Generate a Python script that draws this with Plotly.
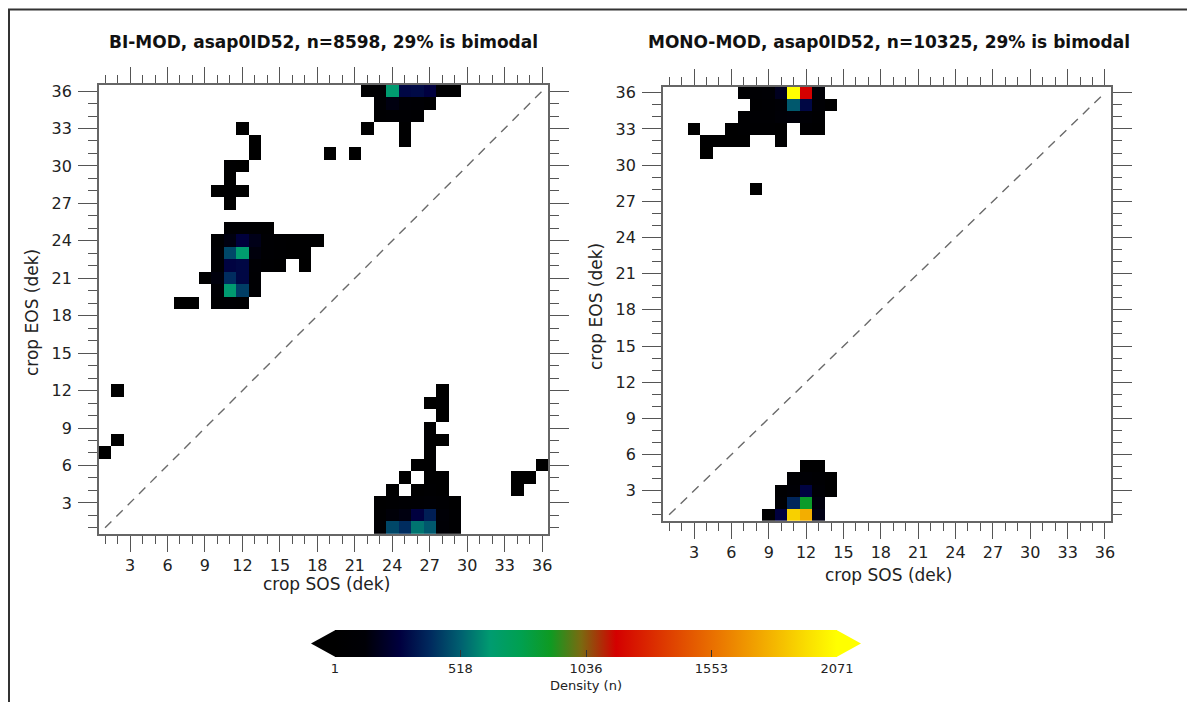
import plotly.graph_objects as go
import numpy as np

# page is 1195x702; the plot div sits at the browser's default 8px body margin
PAGE_W, PAGE_H = 1195, 702
OFF = 8
W, H = PAGE_W - OFF, PAGE_H - OFF

# ---------------- data ----------------
dek = list(range(1, 37))            # dekad index 1..36
tick_vals = list(range(3, 37, 3))   # labelled ticks

# BI-MOD panel: cell SOS, EOS, count
bi_sos = [22, 23, 24, 25, 26, 27, 28, 29,
          23, 24, 25, 26, 27,
          23, 24, 25, 26,
          22, 25, 25,
          19, 21,
          12, 13, 13, 11, 12, 11, 10, 11, 12, 11,
          11, 12, 13, 14,
          10, 11, 12, 13, 14, 15, 16, 17, 18,
          10, 11, 12, 13, 14, 15, 16, 17,
          10, 11, 12, 13, 14, 15, 17,
          9, 10, 11, 12, 13,
          10, 11, 12, 13,
          7, 8, 10, 11, 12,
          1, 2, 2, 34, 34, 35, 36,
          28, 27, 28, 28, 27, 27, 28, 27, 26, 27,
          25, 27, 28, 24, 26, 27, 28,
          23, 24, 25, 26, 27, 28, 29,
          23, 24, 25, 26, 27, 28, 29,
          23, 24, 25, 26, 27, 28, 29]
bi_eos = [36, 36, 36, 36, 36, 36, 36, 36,
          35, 35, 35, 35, 35,
          34, 34, 34, 34,
          33, 33, 32,
          31, 31,
          33, 32, 31, 30, 30, 29, 28, 28, 28, 27,
          25, 25, 25, 25,
          24, 24, 24, 24, 24, 24, 24, 24, 24,
          23, 23, 23, 23, 23, 23, 23, 23,
          22, 22, 22, 22, 22, 22, 22,
          21, 21, 21, 21, 21,
          20, 20, 20, 20,
          19, 19, 19, 19, 19,
          7, 8, 12, 5, 4, 5, 6,
          12, 11, 11, 10, 9, 8, 8, 7, 6, 6,
          5, 5, 5, 4, 4, 4, 4,
          3, 3, 3, 3, 3, 3, 3,
          2, 2, 2, 2, 2, 2, 2,
          1, 1, 1, 1, 1, 1, 1]
bi_n = [40, 60, 640, 290, 300, 270, 50, 30,
        60, 150, 110, 80, 40,
        50, 70, 60, 40,
        20, 30, 25,
        10, 10,
        10, 10, 10, 15, 10, 10, 10, 15, 10, 10,
        60, 70, 50, 30,
        50, 150, 260, 170, 60, 40, 30, 20, 15,
        80, 460, 650, 140, 60, 40, 25, 15,
        90, 280, 290, 90, 40, 20, 10,
        20, 140, 400, 290, 70,
        90, 640, 440, 60,
        10, 10, 40, 60, 40,
        10, 10, 10, 10, 10, 10, 10,
        10, 10, 15, 10, 15, 15, 10, 20, 15, 25,
        10, 30, 20, 15, 25, 40, 30,
        30, 50, 60, 70, 80, 60, 30,
        50, 130, 150, 270, 360, 120, 40,
        60, 460, 400, 560, 500, 110, 40]

# MONO-MOD panel: cell SOS, EOS, count
mono_sos = [7, 8, 9, 10, 11, 12, 13,
            8, 9, 10, 11, 12, 13, 14,
            7, 8, 9, 10, 11, 12, 13,
            3, 6, 7, 8, 9, 10, 12, 13,
            4, 5, 6, 7, 10,
            4, 8,
            12, 13,
            11, 12, 13, 14,
            10, 11, 12, 13, 14,
            10, 11, 12, 13,
            9, 10, 11, 12, 13]
mono_eos = [36, 36, 36, 36, 36, 36, 36,
            35, 35, 35, 35, 35, 35, 35,
            34, 34, 34, 34, 34, 34, 34,
            33, 33, 33, 33, 33, 33, 33, 33,
            32, 32, 32, 32, 32,
            31, 28,
            5, 5,
            4, 4, 4, 4,
            3, 3, 3, 3, 3,
            2, 2, 2, 2,
            1, 1, 1, 1, 1]
mono_n = [40, 60, 80, 190, 2071, 1160, 120,
          50, 70, 110, 500, 290, 80, 30,
          40, 60, 70, 120, 130, 110, 50,
          10, 20, 40, 50, 40, 30, 40, 30,
          15, 20, 25, 20, 15,
          10, 10,
          30, 20,
          60, 110, 60, 20,
          50, 100, 280, 100, 30,
          90, 380, 870, 140,
          40, 270, 1900, 1780, 160]

titles = ["BI-MOD, asap0ID52, n=8598, 29% is bimodal",
          "MONO-MOD, asap0ID52, n=10325, 29% is bimodal"]
x_title = "crop SOS (dek)"
y_title = "crop EOS (dek)"
cbar_title = "Density (n)"
cbar_min, cbar_max = 1, 2071
cbar_ticks = [1, 518, 1036, 1553, 2071]


def grid(sos, eos, n):
    z = [[None] * 36 for _ in range(36)]
    for s, e, c in zip(sos, eos, n):
        z[e - 1][s - 1] = c
    return z


colorscale = [[0.0, '#000000'], [0.06, '#000006'], [0.13, '#00003f'],
              [0.19, '#002a5e'], [0.25, '#006070'], [0.31, '#009c70'],
              [0.37, '#00a050'], [0.43, '#0f9a22'], [0.49, '#7a6a10'],
              [0.56, '#d40000'], [0.66, '#de3c00'], [0.76, '#ea7400'],
              [0.86, '#f3ae00'], [0.94, '#fade00'], [1.0, '#ffff00']]


# ---------------- geometry (page pixels -> paper) ----------------
def px(x):
    return (x - OFF) / W


def py(y):
    return 1 - (y - OFF) / H


L = dict(x0=98.8, x1=548.4, y0=84.8, y1=534.1)
R = dict(x0=662.9, x1=1111.2, y0=86.7, y1=520.9)

fig = go.Figure()
fig.add_trace(go.Heatmap(x=dek, y=dek, z=grid(bi_sos, bi_eos, bi_n),
                         coloraxis='coloraxis', xaxis='x', yaxis='y',
                         hoverongaps=False))
fig.add_trace(go.Heatmap(x=dek, y=dek, z=grid(mono_sos, mono_eos, mono_n),
                         coloraxis='coloraxis', xaxis='x2', yaxis='y2',
                         hoverongaps=False))
for xa, ya in (('x', 'y'), ('x2', 'y2')):
    fig.add_trace(go.Scatter(x=[1, 36], y=[1, 36], mode='lines', xaxis=xa, yaxis=ya,
                             line=dict(color='#6a6a6a', width=1.4, dash='9px,7px'),
                             showlegend=False, hoverinfo='skip'))

tickfont = dict(family='DejaVu Sans', size=16, color='#222')


def axis(domain, anchor, major_len, minor_len, standoff):
    return dict(domain=domain, anchor=anchor, range=[0.5, 36.5],
                tickmode='array', tickvals=tick_vals,
                ticks='outside', ticklen=major_len, tickwidth=1.3, tickcolor='#555',
                minor=dict(tickmode='linear', tick0=0, dtick=1, ticks='outside',
                           ticklen=minor_len, tickwidth=1.1, tickcolor='#555', showgrid=False),
                mirror='ticks', showline=True, linecolor='#666', linewidth=1.5,
                showgrid=False, zeroline=False, tickfont=tickfont,
                ticklabelstandoff=standoff, fixedrange=True)


fig.update_layout(
    width=W, height=H, margin=dict(l=0, r=0, t=0, b=0, autoexpand=False),
    paper_bgcolor='white', plot_bgcolor='white', showlegend=False,
    xaxis=axis([px(L['x0']), px(L['x1'])], 'y', 16, 8, 0),
    yaxis=axis([py(L['y1']), py(L['y0'])], 'x', 19, 9, 3),
    xaxis2=axis([px(R['x0']), px(R['x1'])], 'y2', 16, 8, 0),
    yaxis2=axis([py(R['y1']), py(R['y0'])], 'x2', 19, 9, 3),
    coloraxis=dict(
        colorscale=colorscale, cmin=cbar_min, cmax=cbar_max,
        colorbar=dict(orientation='h', x=px(586), xanchor='center',
                      y=py(630), yanchor='top', len=502, lenmode='pixels',
                      thickness=27, thicknessmode='pixels', xpad=0, ypad=0,
                      outlinewidth=0, ticks='inside', ticklen=7, tickwidth=1.2,
                      tickcolor='#333', tickvals=cbar_ticks,
                      ticktext=[str(v) for v in cbar_ticks],
                      tickfont=dict(family='DejaVu Sans', size=13, color='#222'),
                      title=dict(text=cbar_title, side='bottom',
                                 font=dict(family='DejaVu Sans', size=13, color='#222')))),
)

ann = []
for t, cx in zip(titles, [(L['x0'] + L['x1']) / 2, (R['x0'] + R['x1']) / 2 + 2]):
    ann.append(dict(text='<b>%s</b>' % t, x=px(cx), y=py(42), xref='paper', yref='paper',
                    showarrow=False, xanchor='center', yanchor='middle',
                    font=dict(family='DejaVu Sans', size=17, color='#111')))
ann.append(dict(text=x_title, x=px(326), y=py(584), xref='paper', yref='paper', showarrow=False,
                xanchor='center', yanchor='middle',
                font=dict(family='DejaVu Sans', size=17, color='#222')))
ann.append(dict(text=x_title, x=px(888), y=py(575), xref='paper', yref='paper', showarrow=False,
                xanchor='center', yanchor='middle',
                font=dict(family='DejaVu Sans', size=17, color='#222')))
ann.append(dict(text=y_title, x=px(32), y=py(313), xref='paper', yref='paper', showarrow=False,
                textangle=-90, xanchor='center', yanchor='middle',
                font=dict(family='DejaVu Sans', size=17, color='#222')))
ann.append(dict(text=y_title, x=px(596), y=py(307), xref='paper', yref='paper', showarrow=False,
                textangle=-90, xanchor='center', yanchor='middle',
                font=dict(family='DejaVu Sans', size=17, color='#222')))
fig.update_layout(annotations=ann)

# colour-bar end arrows and the outer frame
bx0, bx1, by0, by1 = 335, 837, 630, 657
bym = (by0 + by1) / 2
shapes = [
    dict(type='path', xref='paper', yref='paper', line=dict(width=0), fillcolor='#000000',
         path='M %f %f L %f %f L %f %f Z' % (px(bx0 + 0.5), py(by0), px(311), py(bym),
                                             px(bx0 + 0.5), py(by1))),
    dict(type='path', xref='paper', yref='paper', line=dict(width=0), fillcolor='#ffff00',
         path='M %f %f L %f %f L %f %f Z' % (px(bx1 - 0.5), py(by0), px(861), py(bym),
                                             px(bx1 - 0.5), py(by1))),
    dict(type='line', xref='paper', yref='paper', x0=0, x1=1, y0=py(9.5), y1=py(9.5),
         line=dict(color='#333', width=2)),
    dict(type='line', xref='paper', yref='paper', x0=px(9), x1=px(9), y0=py(9), y1=0,
         line=dict(color='#333', width=2)),
]
fig.update_layout(shapes=shapes)

fig.write_html("out.html")
